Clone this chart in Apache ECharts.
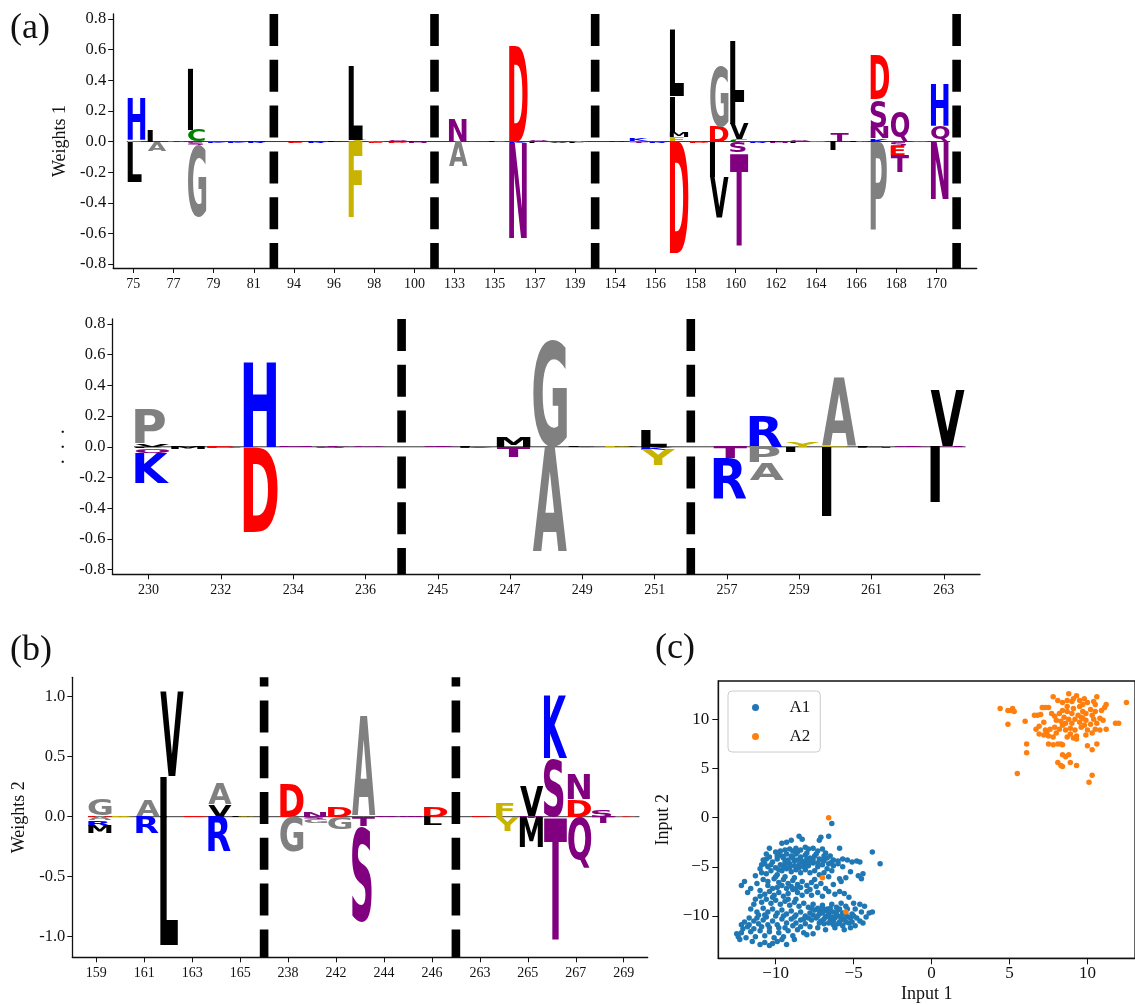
<!DOCTYPE html>
<html><head><meta charset="utf-8">
<script src="https://cdn.jsdelivr.net/npm/echarts@6/dist/echarts.min.js"></script>
<style>html,body{margin:0;padding:0;background:#fff}#c{width:1135px;height:1005px}</style>
</head><body><div id="c"></div>
<script>
// ---------------- DATA ----------------
// Panel (a), row 1: position segments, separators (slot index), letter weights [position, letter, weight]
const row1Segments = [[75,76,77,78,79,80,81],[94,95,96,97,98,99,100],[133,134,135,136,137,138,139],
  [154,155,156,157,158,159,160,161,162,163,164,165,166,167,168,169,170]];
const row1Separators = [7,15,23,41];
const row1Weights = [
  [75,'F',0.008],[75,'H',0.27],[75,'L',-0.265],
  [76,'I',0.075],[76,'A',-0.06],
  [77,'P',0.004],[77,'T',-0.004],
  [78,'C',0.075],[78,'I',0.40],[78,'S',-0.02],[78,'G',-0.47],
  [79,'E',0.008],[79,'K',-0.01],
  [80,'N',0.005],[80,'K',-0.008],
  [81,'R',-0.01],[81,'H',0.006],
  [94,'T',0.006],[94,'E',-0.008],
  [95,'R',-0.008],[95,'K',0.005],
  [96,'L',0.005],[96,'I',-0.006],
  [97,'Y',0.012],[97,'L',0.48],[97,'F',-0.49],
  [98,'P',0.006],[98,'E',-0.008],
  [99,'Q',0.006],[99,'D',-0.008],
  [100,'K',0.005],[100,'N',-0.008],
  [133,'N',0.15],[133,'A',-0.16],
  [134,'S',0.005],[134,'D',-0.006],
  [135,'P',0.006],[135,'I',-0.004],
  [136,'D',0.63],[136,'K',-0.008],[136,'N',-0.62],
  [137,'Q',0.008],[137,'I',-0.01],
  [138,'E',0.006],[138,'V',-0.008],
  [139,'Y',0.006],[139,'L',-0.008],
  [154,'E',0.006],[154,'R',-0.006],
  [155,'P',0.006],[155,'K',0.015],[155,'T',-0.012],
  [156,'E',0.006],[156,'R',-0.008],
  [157,'F',0.03],[157,'M',0.035],[157,'I',0.23],[157,'L',0.43],[157,'D',-0.73],
  [158,'E',0.008],[158,'D',-0.008],
  [159,'D',0.097],[159,'G',0.40],[159,'I',-0.23],[159,'V',-0.26],
  [160,'C',0.017],[160,'V',0.098],[160,'I',0.14],[160,'L',0.40],[160,'S',-0.072],[160,'T',-0.6],
  [161,'E',0.006],[161,'R',-0.008],
  [162,'L',0.006],[162,'N',-0.008],
  [163,'Q',0.006],[163,'I',-0.008],
  [164,'F',0.008],[164,'P',-0.006],
  [165,'T',0.06],[165,'I',-0.055],
  [166,'Y',0.006],[166,'L',-0.006],
  [167,'K',0.02],[167,'N',0.075],[167,'S',0.18],[167,'D',0.29],[167,'P',-0.576],
  [168,'Q',0.195],[168,'S',-0.028],[168,'E',-0.058],[168,'T',-0.11],
  [169,'N',0.006],[169,'A',-0.006],
  [170,'Q',0.10],[170,'H',0.27],[170,'N',-0.375]
];

// Panel (a), row 2
const row2Segments = [[230,231,232,233,234,235,236],[245,246,247,248,249,250,251],[257,258,259,260,261,262,263]];
const row2Separators = [7,15];
const row2Weights = [
  [230,'V',0.02],[230,'P',0.22],[230,'L',-0.01],[230,'Q',-0.035],[230,'K',-0.19],
  [231,'L',0.008],[231,'M',-0.012],
  [232,'E',0.006],[232,'D',-0.005],
  [233,'H',0.548],[233,'D',-0.553],
  [234,'N',0.005],[234,'S',-0.004],
  [235,'T',0.005],[235,'S',-0.006],
  [236,'Q',0.004],
  [245,'S',0.005],[245,'T',-0.004],
  [246,'I',0.006],[246,'K',-0.005],
  [247,'M',0.07],[247,'T',-0.065],
  [248,'G',0.695],[248,'A',-0.69],
  [249,'L',0.006],[249,'Y',-0.005],
  [250,'V',0.006],[250,'F',-0.004],
  [251,'L',0.11],[251,'K',-0.02],[251,'Y',-0.1],
  [257,'E',0.008],[257,'T',-0.075],[257,'R',-0.26],
  [258,'R',0.205],[258,'P',-0.1],[258,'A',-0.115],
  [259,'Y',0.033],[259,'I',-0.033],
  [260,'F',0.008],[260,'A',0.445],[260,'I',-0.45],
  [261,'L',0.006],[261,'N',-0.005],
  [262,'S',0.005],[262,'T',-0.004],
  [263,'N',0.005],[263,'V',0.365],[263,'I',-0.36]
];

// Panel (b)
const bSegments = [[159,160,161,162,163,164,165],[238,240,242,243,244,245,246],[263,264,265,266,267,268,269]];
const bSeparators = [7,15];
const bWeights = [
  [159,'D',0.012],[159,'G',0.13],[159,'A',-0.03],[159,'R',-0.045],[159,'M',-0.065],
  [160,'F',0.008],[160,'Y',-0.006],
  [161,'A',0.135],[161,'R',-0.135],
  [162,'I',0.34],[162,'V',0.71],[162,'L',-1.07],
  [163,'E',0.008],[163,'D',-0.006],
  [164,'V',0.10],[164,'A',0.18],[164,'R',-0.29],
  [165,'Y',0.006],[165,'L',-0.006],
  [238,'D',0.27],[238,'G',-0.29],
  [240,'N',0.04],[240,'S',-0.02],[240,'G',-0.035],
  [242,'D',0.085],[242,'G',-0.1],
  [243,'A',0.84],[243,'T',-0.08],[243,'S',-0.795],
  [244,'S',0.006],[244,'Q',-0.005],
  [245,'N',0.006],[245,'T',-0.006],
  [246,'D',0.08],[246,'L',-0.07],
  [263,'L',0.006],[263,'E',-0.005],
  [264,'F',0.12],[264,'Y',-0.12],
  [265,'N',0.008],[265,'V',0.245],[265,'T',-0.01],[265,'M',-0.245],
  [266,'S',0.49],[266,'K',0.525],[266,'T',-1.02],
  [267,'D',0.145],[267,'N',0.21],[267,'Q',-0.43],
  [268,'S',0.05],[268,'T',-0.05],
  [269,'E',0.006],[269,'P',-0.005]
];

const logoYTicks = [-0.8,-0.6,-0.4,-0.2,0,0.2,0.4,0.6,0.8];
const bYTicks = [-1,-0.5,0,0.5,1];

// Panel (c) scatter
const a1Points = [
 [-6.4,-0.6],[-6.6,-1.9],[-7.1,-2.0],[-7.2,-2.3],[-8.5,-1.9],[-8.3,-2.2],[-9.0,-2.3],[-9.3,-2.5],[-9.6,-2.6],[-5.9,-3.1],[-3.8,-3.5],[-3.3,-4.7],[-10.4,-3.1],
 [-10.6,-4.2],[-10.8,-4.3],[-10.4,-4.0],[-10.0,-3.5],[-9.7,-3.4],[-9.4,-3.3],[-9.1,-3.2],[-8.9,-3.4],[-8.7,-3.1],[-8.4,-3.3],[-8.1,-3.0],[-7.9,-3.2],[-7.6,-3.1],[-7.3,-3.4],[-7.0,-3.2],[-6.8,-3.6],[-6.5,-3.9],[-6.3,-4.3],[-6.0,-4.4],[-5.7,-4.2],[-5.4,-4.3],[-5.1,-4.5],[-4.8,-4.4],[-4.6,-4.5],
 [-10.2,-4.5],[-9.9,-4.2],[-9.6,-3.9],[-9.3,-3.7],[-9.0,-3.9],[-8.7,-3.7],[-8.4,-4.0],[-8.1,-3.8],[-7.8,-4.1],[-7.5,-3.9],[-7.2,-4.2],[-6.9,-4.4],[-6.6,-4.7],[-6.3,-4.9],[-6.0,-4.7],[-5.7,-5.0],
 [-10.5,-5.0],[-10.0,-5.1],[-9.7,-4.8],[-9.4,-4.5],[-9.1,-4.7],[-8.8,-4.4],[-8.5,-4.8],[-8.2,-4.6],[-7.9,-4.9],[-7.6,-4.6],[-7.3,-5.0],[-7.0,-4.8],[-6.7,-5.2],[-6.4,-5.4],[-5.2,-5.5],[-4.7,-5.9],[-4.4,-5.7],
 [-11.3,-5.9],[-10.9,-5.6],[-10.6,-5.7],[-10.3,-5.4],[-9.9,-5.8],[-9.6,-5.4],[-9.3,-5.2],[-9.0,-5.5],[-8.7,-5.3],[-8.4,-5.6],[-8.1,-5.3],[-7.8,-5.6],[-7.5,-5.4],[-7.2,-5.8],[-6.9,-5.6],[-6.6,-6.0],[-5.9,-6.2],[-5.5,-6.1],[-4.5,-6.2],
 [-12.0,-6.5],[-12.2,-6.9],[-11.6,-7.2],[-11.8,-7.6],[-11.2,-6.7],[-10.8,-6.3],[-10.5,-6.5],[-10.1,-6.2],[-9.8,-6.6],[-9.5,-6.3],[-9.2,-6.7],[-8.9,-6.4],[-8.6,-6.8],[-8.3,-6.5],[-8.0,-6.9],[-7.7,-6.6],[-7.4,-7.0],[-7.1,-6.7],[-6.8,-7.2],[-6.3,-6.8],[-5.8,-6.5],
 [-11.0,-7.4],[-10.7,-7.8],[-10.4,-7.5],[-10.1,-7.9],[-9.8,-7.6],[-9.5,-8.0],[-9.2,-7.7],[-8.9,-7.3],[-8.6,-7.6],[-8.3,-7.9],[-8.0,-7.5],[-7.7,-7.9],[-7.3,-7.6],[-7.0,-8.0],[-6.6,-7.5],[-6.2,-7.8],[-5.9,-7.5],[-5.6,-7.7],[-5.3,-8.1],
 [-11.3,-8.3],[-10.9,-8.6],[-10.6,-8.3],[-10.3,-8.7],[-10.0,-8.4],[-9.7,-8.8],[-9.4,-8.5],[-9.1,-8.9],[-8.8,-8.6],[-8.5,-9.0],[-8.2,-8.7],[-7.9,-9.1],[-7.6,-8.8],[-7.3,-9.2],[-7.0,-8.9],[-6.7,-9.3],[-6.4,-8.8],[-6.1,-9.1],[-5.8,-8.7],[-5.5,-9.0],[-5.0,-8.7],[-4.6,-8.8],[-4.3,-9.0],
 [-11.6,-9.3],[-11.2,-9.6],[-10.8,-9.2],[-10.5,-9.6],[-10.2,-9.3],[-9.9,-9.7],[-9.6,-9.4],[-9.3,-9.8],[-9.0,-9.5],[-8.7,-9.9],[-8.4,-9.6],[-8.1,-10.0],[-7.8,-9.7],[-7.5,-9.4],[-7.2,-9.8],[-6.9,-9.5],[-6.6,-9.9],[-6.3,-9.6],[-6.0,-10.0],[-5.7,-9.7],[-5.4,-10.1],[-5.1,-9.8],[-4.8,-10.2],[-4.0,-9.7],[-3.8,-9.6],
 [-7.4,-10.2],[-7.1,-10.5],[-6.8,-10.1],[-6.5,-10.4],[-6.2,-10.2],[-5.9,-10.6],[-5.6,-10.3],[-5.3,-10.7],[-7.7,-10.4],[-6.9,-10.8],[-6.3,-10.9],[-5.7,-11.0],[-5.1,-10.6],[-4.6,-10.5],[-4.2,-10.1],[-6.0,-9.4],[-6.6,-9.6],[-7.2,-9.4],[-5.4,-9.3],[-4.9,-9.3],
 [-12.0,-10.6],[-11.7,-10.9],[-11.4,-10.5],[-11.1,-10.8],[-10.8,-10.4],[-10.5,-10.9],[-10.2,-10.5],[-9.9,-10.9],[-9.6,-10.3],[-9.3,-10.7],[-9.0,-10.3],[-8.7,-10.7],[-8.4,-10.4],[-8.1,-10.8],[-7.8,-11.1],[-7.3,-11.2],[-6.8,-11.4],[-6.2,-11.2],[-5.6,-11.4],[-5.2,-11.2],[-4.9,-11.0],
 [-12.4,-12.1],[-12.2,-11.7],[-11.9,-12.2],[-11.6,-11.6],[-11.3,-12.1],[-11.0,-11.5],[-10.7,-12.0],[-10.4,-11.6],[-10.1,-12.2],[-9.8,-11.7],[-9.5,-12.1],[-9.2,-11.5],[-8.9,-12.0],[-8.6,-11.4],[-8.2,-11.7],[-7.6,-11.8],
 [-11.5,-12.6],[-11.0,-12.9],[-10.7,-12.7],[-10.4,-13.0],[-9.9,-12.6],[-9.3,-12.9],[-8.8,-12.4],[-8.0,-11.9],[-11.8,-11.1],[-12.1,-11.3],
 [-9.8,-3.8],[-9.5,-4.1],[-9.2,-4.3],[-8.9,-4.1],[-8.6,-4.3],[-8.3,-4.4],[-8.0,-4.2],[-9.4,-4.9],[-9.1,-5.1],[-8.8,-4.9],[-8.5,-5.1],[-8.2,-5.0],[-10.3,-4.8],[-10.7,-4.7],[-11.0,-5.2],
 [-9.8,-5.3],[-9.5,-5.0],[-7.9,-4.5],[-7.6,-4.3],[-7.3,-4.6],[-7.0,-4.3],[-6.7,-4.1],[-6.4,-4.5],[-8.6,-3.5],[-8.0,-3.6],[-7.4,-3.7],[-6.9,-3.9],[-9.9,-3.9],[-10.6,-3.7],[-10.9,-4.8],
 [-9.9,-7.1],[-9.6,-6.9],[-9.3,-7.2],[-9.0,-7.0],[-8.7,-7.2],[-8.4,-7.1],[-10.2,-7.2],[-10.5,-6.9],[-7.8,-7.3],[-7.5,-6.3],[-8.8,-6.1],[-9.4,-6.0],[-10.0,-6.0],[-11.0,-8.0],[-11.4,-8.8],[-10.2,-8.1],[-8.7,-8.3],[-9.2,-8.3],
 [-7.6,-9.9],[-7.3,-10.0],[-7.0,-9.7],[-6.7,-10.0],[-6.4,-10.1],[-6.1,-9.8],[-5.8,-10.1],[-5.5,-9.8],[-5.2,-10.2],[-6.9,-10.3],[-6.3,-10.5],[-5.8,-10.4],[-7.2,-10.7],[-6.6,-10.7],[-6.0,-10.8],
 [-5.5,-10.6],[-7.9,-10.2],[-8.2,-10.3],[-6.5,-9.2],[-5.9,-9.3],[-7.7,-9.2],[-7.0,-9.2],[-4.5,-9.6],[-5.0,-10.0],[-4.4,-10.7],
 [-11.7,-10.2],[-11.2,-10.2],[-10.6,-10.1],[-10.9,-11.1],[-10.4,-11.2],[-9.8,-11.2],[-9.4,-11.2],[-11.4,-11.3],[-12.2,-10.9],[-12.5,-11.8],[-10.0,-10.0],[-9.5,-10.0],[-8.9,-11.0],[-8.4,-11.1],
 [-8.8,-10.1],[-10.7,-9.9],[-11.1,-9.9],[-12.3,-12.4],[-10.2,-12.8],[-9.6,-12.4]
];
const a2Points = [
 [4.4,11.1],[4.9,10.9],[5.1,10.9],[5.2,11.1],[5.3,10.8],[4.9,9.5],[6.0,9.8],[5.5,4.5],[6.1,7.5],[6.1,6.6],[6.6,10.4],[6.8,10.4],[6.7,9.0],[6.9,9.3],
 [7.1,11.2],[7.3,11.2],[7.5,11.2],[7.8,12.3],[6.9,8.5],[7.2,8.4],[7.4,8.7],[7.5,8.3],[7.6,9.0],[7.5,7.5],[7.8,7.4],[8.1,7.5],[8.1,11.9],[8.4,11.7],
 [8.7,11.9],[9.0,11.8],[8.0,9.9],[8.3,9.8],[8.5,10.2],[8.8,10.0],[7.9,9.2],[8.2,9.0],[8.4,9.4],[8.6,8.9],[8.4,10.9],[8.7,10.8],[9.0,10.6],[9.1,11.1],
 [8.8,12.6],[9.1,12.1],[9.3,12.4],[8.3,7.5],[8.4,7.4],[8.4,6.4],[8.6,6.2],[8.8,6.4],[8.9,5.6],[8.1,5.6],[8.3,5.3],[8.4,5.2],[9.3,5.3],[8.9,8.5],
 [9.1,8.1],[9.3,8.3],[9.2,8.9],[9.5,9.7],[9.7,10.1],[9.9,9.9],[9.8,9.4],[9.5,11.3],[9.7,11.5],[10.0,11.7],[10.4,11.8],[10.5,11.5],[10.6,12.3],
 [10.5,10.8],[10.3,10.4],[10.4,10.0],[10.6,9.6],[10.8,10.1],[10.0,8.9],[10.3,8.6],[10.5,9.0],[10.0,7.3],[10.3,6.9],[10.6,7.5],[10.3,4.3],[10.1,3.6],
 [10.9,10.9],[11.1,11.2],[11.2,11.5],[11.0,9.9],[11.2,9.0],[11.8,9.6],[12.0,9.6],[12.5,11.7],[9.4,10.4],[9.7,10.8],[9.9,10.6],[9.2,10.0],[9.0,9.6],
 [8.7,8.2],[9.3,8.0],[7.8,8.2],[7.3,8.9],[8.7,11.3],[9.5,11.9],
 [7.0,10.5],[7.7,10.6],[8.2,10.6],[9.6,9.2],[9.9,8.4],[10.8,8.9],[7.2,9.7],[8.9,9.1],[9.6,10.2],[10.2,9.5],[8.0,8.6],[9.8,12.1],[10.2,11.0],[7.9,10.3],[8.6,9.6],
 [-6.6,0.0],[-7.0,-6.1],[-5.5,-9.6]
];
const scatterTicks = [-10,-5,0,5,10];

// ---------------- STYLE HELPERS ----------------
const SERIF = 'Liberation Serif';
const COLOR = {};
[['AGPW','#808080'],['NQST','#800080'],['HKR','#0000ff'],['DE','#ff0000'],['LIVM','#000000'],['FY','#c8b400'],['C','#008000']]
  .forEach(([s,c]) => s.split('').forEach(ch => COLOR[ch] = c));

// glyph ink metrics (DejaVu Sans Bold), measured once
const LFONT_FAMILY = 'DejaVu Sans';
const mctx = document.createElement('canvas').getContext('2d');
mctx.font = 'bold 100px "DejaVu Sans"';
mctx.textBaseline = 'middle';
mctx.textAlign = 'left';
const INK = {};
'ACDEFGHIKLMNPQRSTVWY'.split('').forEach(ch => {
  const m = mctx.measureText(ch);
  INK[ch] = {l: -m.actualBoundingBoxLeft, r: m.actualBoundingBoxRight, t: -m.actualBoundingBoxAscent, b: m.actualBoundingBoxDescent};
});
const REF_W = INK['D'].r - INK['D'].l;

function buildLogo(segments, separators, weights) {
  const idxOf = {}, labelOf = {}, ticks = [];
  let idx = 0; let first = null, last = null;
  segments.forEach(seg => {
    seg.forEach(p => {
      while (separators.includes(idx)) idx++;
      idxOf[p] = idx; labelOf[idx] = String(p);
      if (idx % 2 === 0) ticks.push(idx);
      if (first === null) first = idx; last = idx;
      idx++;
    });
  });
  const byPos = {};
  weights.forEach(([p, ch, v]) => { (byPos[p] = byPos[p] || []).push([ch, v]); });
  const letters = [];
  Object.keys(byPos).forEach(p => {
    const x = idxOf[p];
    const pos = byPos[p].filter(d => d[1] > 0).sort((a, b) => a[1] - b[1]);
    const neg = byPos[p].filter(d => d[1] < 0).sort((a, b) => b[1] - a[1]);
    let acc = 0;
    pos.forEach(([ch, v]) => { letters.push([x, acc, acc + v, ch.charCodeAt(0)]); acc += v; });
    acc = 0;
    neg.forEach(([ch, v]) => { letters.push([x, acc + v, acc, ch.charCodeAt(0)]); acc += v; });
  });
  return {letters, ticks, labelOf, separators, first, last};
}

function letterRender(widthFrac, shift) {
  return function (params, api) {
    const x = api.value(0), f = api.value(1), c = api.value(2);
    const ch = String.fromCharCode(api.value(3));
    const p0 = api.coord([x + shift - widthFrac / 2, c]);
    const p1 = api.coord([x + shift + widthFrac / 2, f]);
    const W = p1[0] - p0[0], H = p1[1] - p0[1];
    if (H < 0.2) return null;
    const m = INK[ch];
    const inkW = m.r - m.l, inkH = m.b - m.t;
    const sx = Math.min(W / inkW, W / REF_W);
    const sy = H / inkH;
    return {
      type: 'text', silent: true,
      x: p0[0] - m.l * sx, y: p0[1] - m.t * sy, scaleX: sx, scaleY: sy,
      style: {text: ch, x: 0, y: 0, fontSize: 100, fontFamily: LFONT_FAMILY, fontWeight: 'bold',
              fill: COLOR[ch], align: 'left', verticalAlign: 'middle'}
    };
  };
}

function sepRender(yMin, yMax, dashOffset) {
  return function (params, api) {
    const x = api.value(0);
    const a = api.coord([x, yMax]), b = api.coord([x, yMin]);
    return {type: 'line', silent: true, shape: {x1: a[0], y1: a[1], x2: b[0], y2: b[1]},
      style: {stroke: '#000', lineWidth: 8.6, lineDash: [32, 13.8], lineDashOffset: dashOffset, lineCap: 'butt'}};
  };
}
function baseRender(x0, x1) {
  return function (params, api) {
    const a = api.coord([x0, 0]), b = api.coord([x1, 0]);
    return {type: 'line', silent: true, shape: {x1: a[0], y1: a[1], x2: b[0], y2: b[1]},
      style: {stroke: '#000', lineWidth: 0.8}};
  };
}

const row1 = buildLogo(row1Segments, row1Separators, row1Weights);
const row2 = buildLogo(row2Segments, row2Separators, row2Weights);
const rowB = buildLogo(bSegments, bSeparators, bWeights);

const axisLine = {show: true, onZero: false, lineStyle: {color: '#111', width: 1.3}};
function logoX(gi, model, max) {
  return {
    type: 'value', gridIndex: gi, min: -1, max: max,
    axisLine: axisLine, splitLine: {show: false},
    axisTick: {show: true, length: 5, lineStyle: {color: '#111', width: 1}, customValues: model.ticks},
    axisLabel: {show: true, customValues: model.ticks, margin: 9, fontFamily: SERIF, fontSize: 14, color: '#111',
      formatter: v => model.labelOf[Math.round(v)] || ''}
  };
}
function logoY(gi, min, max, ticks, name, nameSize, nameGap) {
  return {
    type: 'value', gridIndex: gi, min: min, max: max,
    name: name, nameLocation: 'middle', nameGap: nameGap, nameRotate: 90,
    nameTextStyle: {fontFamily: SERIF, fontSize: nameSize, color: '#111'},
    axisLine: axisLine, splitLine: {show: false},
    axisTick: {show: true, length: 5, lineStyle: {color: '#111', width: 1}, customValues: ticks},
    axisLabel: {show: true, customValues: ticks, margin: 7, fontFamily: SERIF, fontSize: 16.5, color: '#111',
      formatter: v => v.toFixed(1)}
  };
}

const R1 = {min: -0.825, max: 0.832}, R2 = {min: -0.8306, max: 0.8326}, RB = {min: -1.1717, max: 1.1617};

function logoSeries(gi, model, rng, widthFrac, shift, dashOffset) {
  return [
    {type: 'custom', xAxisIndex: gi, yAxisIndex: gi, silent: true, z: 2, clip: false,
     renderItem: baseRender(model.first + shift - 0.5, model.last + shift + 0.5), data: [[0, 0]]},
    {type: 'custom', xAxisIndex: gi, yAxisIndex: gi, silent: true, z: 3, clip: false,
     renderItem: letterRender(widthFrac, shift), encode: {x: 0, y: [1, 2]}, data: model.letters},
    {type: 'custom', xAxisIndex: gi, yAxisIndex: gi, silent: true, z: 4, clip: false,
     renderItem: sepRender(rng.min, rng.max, dashOffset), encode: {x: 0}, data: model.separators.map(s => [s, 0])}
  ];
}

const minus = v => (v < 0 ? '\u2212' + Math.abs(v) : String(v));

const option = {
  animation: false,
  backgroundColor: '#fff',
  grid: [
    {left: 113.2, top: 14, width: 863.5, height: 254},
    {left: 112.4, top: 319, width: 867.6, height: 255.3},
    {left: 72.3, top: 677.3, width: 575.4, height: 280},
    {left: 718.3, top: 681, width: 417, height: 277.3, show: true, borderColor: '#111', borderWidth: 1.3, backgroundColor: 'transparent'}
  ],
  xAxis: [
    logoX(0, row1, 42),
    logoX(1, row2, 23),
    logoX(2, rowB, 23),
    {type: 'value', gridIndex: 3, min: -13.68, max: 13.05, name: 'Input 1', nameLocation: 'middle', nameGap: 27,
     nameTextStyle: {fontFamily: SERIF, fontSize: 18, color: '#111'},
     axisLine: axisLine, splitLine: {show: false},
     axisTick: {show: true, length: 6, lineStyle: {color: '#111'}, customValues: scatterTicks},
     axisLabel: {customValues: scatterTicks, margin: 7, fontFamily: SERIF, fontSize: 17, color: '#111', formatter: minus}}
  ],
  yAxis: [
    logoY(0, R1.min, R1.max, logoYTicks, 'Weights 1', 18, 44),
    logoY(1, R2.min, R2.max, logoYTicks, '.\u2002.\u2002.', 20, 36),
    logoY(2, RB.min, RB.max, bYTicks, 'Weights 2', 18, 44),
    {type: 'value', gridIndex: 3, min: -14.301, max: 13.894, name: 'Input 2', nameLocation: 'middle', nameGap: 46, nameRotate: 90,
     nameTextStyle: {fontFamily: SERIF, fontSize: 18, color: '#111'},
     axisLine: axisLine, splitLine: {show: false},
     axisTick: {show: true, length: 6, lineStyle: {color: '#111'}, customValues: scatterTicks},
     axisLabel: {customValues: scatterTicks, margin: 9, fontFamily: SERIF, fontSize: 17, color: '#111', formatter: minus}}
  ],
  legend: {
    data: ['A1', 'A2'], orient: 'vertical', left: 728, top: 691,
    icon: 'circle', itemWidth: 8, itemHeight: 7, itemGap: 12,
    padding: [8, 10, 7, 24], backgroundColor: 'rgba(255,255,255,0.8)',
    borderColor: '#cccccc', borderWidth: 1, borderRadius: 4,
    formatter: name => '{g|}' + name,
    textStyle: {fontFamily: SERIF, fontSize: 17, color: '#111', rich: {g: {width: 25}}}
  },
  graphic: [
    {type: 'text', left: 10, top: 11, style: {text: '(a)', fontFamily: SERIF, fontSize: 36, fill: '#111'}},
    {type: 'text', left: 10, top: 633, style: {text: '(b)', fontFamily: SERIF, fontSize: 36, fill: '#111'}},
    {type: 'text', left: 655, top: 631, style: {text: '(c)', fontFamily: SERIF, fontSize: 36, fill: '#111'}}
  ],
  series: [
    ...logoSeries(0, row1, R1, 0.92, 0.18, 0),
    ...logoSeries(1, row2, R2, 0.94, 0.10, 0),
    ...logoSeries(2, rowB, RB, 0.97, 0.155, 22.7),
    {type: 'scatter', name: 'A1', xAxisIndex: 3, yAxisIndex: 3, symbolSize: 5.5, data: a1Points,
     itemStyle: {color: '#1f77b4', opacity: 1}},
    {type: 'scatter', name: 'A2', xAxisIndex: 3, yAxisIndex: 3, symbolSize: 5.5, data: a2Points,
     itemStyle: {color: '#ff7f0e', opacity: 1}}
  ]
};

const chart = echarts.init(document.getElementById('c'), null, {renderer: 'canvas'});
chart.setOption(option);
</script></body></html>
